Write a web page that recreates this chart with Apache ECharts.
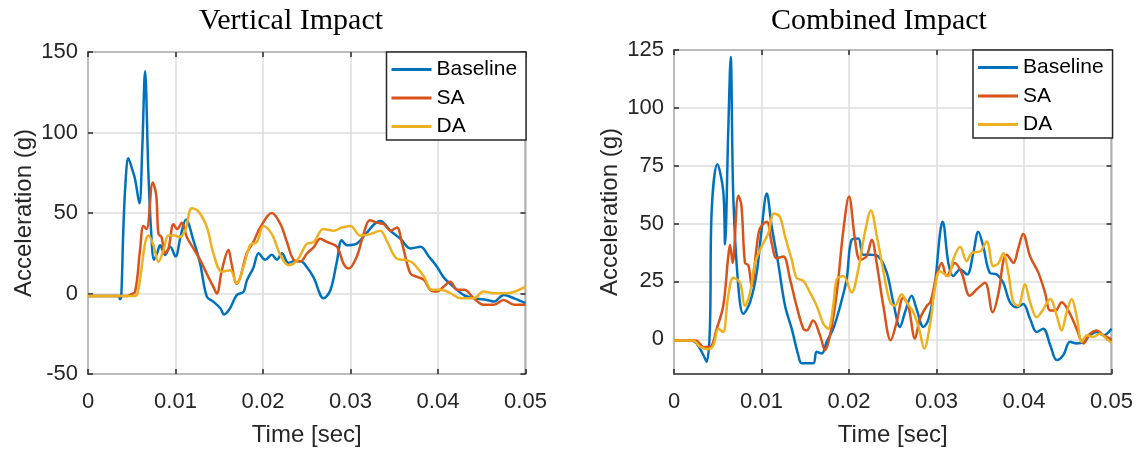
<!DOCTYPE html>
<html>
<head>
<meta charset="utf-8">
<script src="https://cdn.jsdelivr.net/npm/echarts@6/dist/echarts.min.js"></script>
<style>
  html, body { margin: 0; padding: 0; background: #fff; }
  #main { width: 1140px; height: 452px; }
</style>
</head>
<body>
<div id="main"></div>
<script>
// data, [time (s), acceleration (g)]
const verticalBaseline = [
  [0, -1.5], [0.0035, -1.5], [0.00366, -3.5], [0.0038, -2], [0.00404, 40], [0.0043, 70], [0.00461, 84], [0.005, 78], [0.00538, 71], [0.00587, 56],
  [0.0062, 90], [0.00652, 138], [0.0069, 75], [0.0072, 40], [0.00755, 21], [0.0079, 25], [0.00824, 30], [0.0088, 24], [0.0094, 29], [0.01, 23],
  [0.0106, 36], [0.0112, 46], [0.01205, 33], [0.0128, 19], [0.01358, -2], [0.0143, -5], [0.0151, -9], [0.01556, -13], [0.01625, -9], [0.017, -1],
  [0.01777, 1], [0.01815, 8], [0.0189, 16], [0.0195, 25], [0.02025, 21], [0.021, 24], [0.0216, 21], [0.02216, 25], [0.0229, 19], [0.0236, 20],
  [0.0243, 20], [0.025, 16.5], [0.02578, 10], [0.02692, -3], [0.0277, 2], [0.02845, 20], [0.029, 33], [0.0296, 30], [0.0307, 31], [0.0319, 38],
  [0.0327, 43], [0.0334, 45], [0.03455, 39], [0.0357, 34], [0.03684, 28], [0.038, 29], [0.03894, 23], [0.0399, 16.5], [0.04065, 10], [0.0418, 4],
  [0.04295, -1], [0.0441, -3], [0.0456, -4], [0.0464, -5], [0.0475, -1], [0.0487, -3], [0.05, -6]
]
const verticalSA = [
  [0, -1.5], [0.0045, -1.5], [0.0048, -0.8], [0.00538, 1], [0.00595, 27], [0.00633, 42], [0.0067, 40], [0.0074, 69], [0.0078, 61], [0.00805, 37],
  [0.0084, 35], [0.0088, 25], [0.0092, 28], [0.00977, 43], [0.0102, 40], [0.01072, 44], [0.0113, 35], [0.01205, 28], [0.0128, 21], [0.0136, 12],
  [0.01434, 4], [0.01472, 0], [0.0153, 14.5], [0.01605, 27], [0.0164, 18.6], [0.017, 6], [0.0174, 10], [0.01815, 25], [0.0189, 32], [0.01968, 41],
  [0.021, 50], [0.022, 43], [0.02273, 32], [0.0235, 21], [0.0243, 20], [0.025, 24.7], [0.0258, 28.8], [0.02654, 34], [0.0273, 32], [0.02845, 29],
  [0.0292, 18.6], [0.0298, 15.5], [0.0307, 22.6], [0.0315, 37], [0.0322, 45.5], [0.033, 44], [0.0338, 43], [0.0346, 39], [0.0353, 41], [0.0359, 31],
  [0.03684, 12.4], [0.0376, 10.4], [0.0384, 8.4], [0.0391, 2.3], [0.0399, 1.2], [0.04065, 4.3], [0.0414, 7.3], [0.0422, 2.3], [0.043, 2.3], [0.0441, -3],
  [0.0452, -7], [0.0464, -7], [0.0475, -4], [0.0487, -7], [0.05, -7]
]
const verticalDA = [
  [0, -1.5], [0.0054, -1.5], [0.00576, 2.3], [0.00652, 31], [0.0069, 36], [0.00748, 30], [0.00805, 19.6], [0.00862, 26.7], [0.0092, 36], [0.00995, 36],
  [0.0104, 35], [0.0111, 39], [0.01186, 53], [0.01262, 51], [0.0136, 41], [0.01434, 24.7], [0.0153, 13.5], [0.01625, 14.5], [0.017, 6.3], [0.01777, 16.5],
  [0.01853, 30], [0.0193, 32], [0.02006, 42], [0.021, 37], [0.022, 23.7], [0.0229, 17.6], [0.0239, 20.6], [0.025, 30.8], [0.0258, 32], [0.0269, 40],
  [0.0281, 39], [0.029, 41], [0.03, 42], [0.0311, 36], [0.03227, 37], [0.0334, 39], [0.0342, 32], [0.0353, 21.6], [0.0365, 20.6], [0.0372, 18.6],
  [0.0384, 10.4], [0.0393, 2.3], [0.0403, 2.3], [0.0414, 0.2], [0.0426, -2.9], [0.0441, -2.9], [0.0452, 1.2], [0.0464, 0.2], [0.0479, 0.2], [0.05, 4.3]
]
const combinedBaseline = [
  [0, -0.5], [0.002, -0.5], [0.0026, -1.8], [0.00335, -6.8], [0.00373, -9.7], [0.0041, 4.6], [0.0043, 55], [0.00495, 75.6], [0.00563, 64], [0.00583, 41],
  [0.0062, 90], [0.00648, 122], [0.00678, 61], [0.00735, 23], [0.00792, 11], [0.00869, 16], [0.00945, 28.7], [0.01, 47], [0.0106, 63], [0.01117, 48.6],
  [0.0119, 33], [0.01269, 14.5], [0.01345, 4.6], [0.0142, -6.8], [0.0146, -10.4], [0.0159, -10.4], [0.0163, -5.4], [0.0169, -6.1], [0.01745, -1.1], [0.0182, 4.6],
  [0.019, 14.5], [0.01973, 26], [0.0203, 43], [0.02106, 43.6], [0.02163, 36.5], [0.0224, 36.5], [0.02335, 35.8], [0.0243, 29], [0.02506, 16], [0.02583, 5.3],
  [0.0264, 11.7], [0.02716, 18.8], [0.02773, 13], [0.0285, 5.3], [0.0291, 8.8], [0.0298, 23], [0.0304, 45.8], [0.0307, 50.8], [0.03135, 33], [0.0319, 27.3],
  [0.0327, 30.2], [0.0335, 28], [0.0342, 37.2], [0.03478, 46.5], [0.03535, 40], [0.0361, 28.7], [0.0369, 28], [0.03763, 24.4], [0.0384, 16], [0.03917, 13.8],
  [0.0399, 15.2], [0.0407, 8.8], [0.04145, 3.1], [0.0422, 4.6], [0.043, -2.6], [0.04374, -9], [0.0445, -6.8], [0.04526, -1.1], [0.046, -1.8], [0.0468, -1.1],
  [0.04754, 1.7], [0.0483, 3.1], [0.04907, 1.7], [0.05, 4.6]
]
const combinedSA = [
  [0, -0.5], [0.0025, -0.5], [0.00335, -3.3], [0.0041, -3.3], [0.00488, 4.6], [0.00563, 14.5], [0.0062, 35.8], [0.0064, 40.8], [0.0067, 33], [0.00735, 62],
  [0.0077, 58], [0.00811, 33], [0.0085, 32], [0.00888, 23], [0.00945, 40], [0.00983, 48], [0.0106, 50.8], [0.01117, 41.5], [0.01173, 35], [0.0125, 35.8],
  [0.01326, 26], [0.014, 14.5], [0.01478, 4.6], [0.01516, 3.8], [0.0159, 8.1], [0.01669, 1.7], [0.01726, -4.7], [0.01783, 1.7], [0.0186, 20], [0.01935, 47],
  [0.02, 61.7], [0.02069, 43], [0.02126, 34.4], [0.022, 35.8], [0.0226, 43], [0.02316, 33], [0.0239, 15], [0.02477, -0.4], [0.02545, 7.4], [0.0262, 18],
  [0.02678, 14.5], [0.02754, 0.3], [0.0281, 8.8], [0.0289, 14.5], [0.0293, 16], [0.03, 27.3], [0.0306, 33], [0.03116, 27.3], [0.0321, 33], [0.03288, 28.7],
  [0.0338, 18.8], [0.0346, 21.6], [0.03554, 24.4], [0.03642, 11.7], [0.0371, 20.2], [0.03763, 33.7], [0.038, 36.5], [0.03878, 33], [0.03935, 39.4], [0.0399, 45.5],
  [0.0407, 35.8], [0.04165, 28.7], [0.0424, 20.2], [0.043, 12.4], [0.0436, 12.4], [0.0443, 16], [0.04526, 11], [0.046, 4.6], [0.0468, -1.8], [0.04754, 2.4],
  [0.0483, 3.8], [0.0491, 1.7], [0.05, 0]
]
const combinedDA = [
  [0, -0.5], [0.0022, -0.5], [0.003, -3.3], [0.0039, -4.3], [0.0045, -2.6], [0.00507, 4.6], [0.0056, 3.1], [0.0062, 18.8], [0.00678, 26.6], [0.00754, 24.4],
  [0.00811, 14.5], [0.00869, 20.2], [0.00926, 33], [0.01, 40], [0.01078, 45.8], [0.01143, 54.3], [0.0121, 52.9], [0.01269, 44.4], [0.01345, 34.4], [0.014, 26.6],
  [0.01478, 25.2], [0.01554, 20.2], [0.0163, 14.5], [0.01707, 6.7], [0.01763, 4.6], [0.0182, 14.5], [0.0186, 25.9], [0.01935, 27.3], [0.0203, 20.2], [0.02106, 30.2],
  [0.0218, 45.8], [0.0225, 55.7], [0.02316, 45], [0.0239, 30], [0.0247, 16], [0.02526, 14.5], [0.026, 19.5], [0.0266, 16], [0.02735, 11.7], [0.028, 4.6],
  [0.0286, -4], [0.0293, 7.4], [0.0298, 21.6], [0.0304, 29.4], [0.03135, 27.3], [0.0319, 34.4], [0.0327, 40], [0.03345, 33.7], [0.034, 37.2], [0.035, 38],
  [0.03574, 42.2], [0.0365, 31.6], [0.0371, 33], [0.03763, 37.2], [0.0382, 28.7], [0.03878, 16], [0.03935, 14.5], [0.0401, 23.8], [0.0407, 16], [0.04145, 9.5],
  [0.0422, 13], [0.043, 17.4], [0.04374, 10.2], [0.0443, 3.8], [0.04488, 11.7], [0.04545, 17.4], [0.046, 10.2], [0.04662, -1.1], [0.0472, 1.7], [0.0479, 1],
  [0.0487, 2.4], [0.0494, 0.3], [0.05, -1.5]
]
const seriesNames = ['Baseline', 'SA', 'DA']
const combinedYTicks = [0, 25, 50, 75, 100, 125]

const colors = ['#0072BD', '#D95319', '#EDB120']
const ink = '#262626'
const sans = 'Liberation Sans'

const myChart = echarts.init(document.getElementById('main'), null, { renderer: 'canvas' })

function xAxisFor (gridIndex, top) {
  return {
    type: 'value',
    gridIndex: gridIndex,
    position: top ? 'top' : 'bottom',
    min: 0,
    max: 0.05,
    interval: 0.01,
    name: top ? '' : 'Time [sec]',
    nameLocation: 'middle',
    nameGap: 49,
    nameTextStyle: { fontFamily: sans, fontSize: 24, color: ink },
    axisLine: { show: false, onZero: false },
    axisTick: { show: true, inside: true, length: 5, lineStyle: { color: ink, width: 1.5 } },
    axisLabel: {
      show: !top,
      margin: 17,
      fontFamily: sans,
      fontSize: 22,
      color: ink,
      showMinLabel: true,
      showMaxLabel: true,
      formatter: v => (v === 0 ? '0' : v.toFixed(2))
    },
    splitLine: { show: !top, lineStyle: { color: '#dcdcdc', width: 1.5 } }
  }
}

function yAxisFor (gridIndex, right, range, ticks) {
  const axis = {
    type: 'value',
    gridIndex: gridIndex,
    position: right ? 'right' : 'left',
    min: range[0],
    max: range[1],
    name: right ? '' : 'Acceleration (g)',
    nameLocation: 'middle',
    nameGap: 52,
    nameTextStyle: { fontFamily: sans, fontSize: 24, color: ink },
    axisLine: { show: false, onZero: false },
    axisTick: { show: true, inside: true, length: 5, lineStyle: { color: ink, width: 1.5 } },
    axisLabel: {
      show: !right,
      margin: 10,
      fontFamily: sans,
      fontSize: 22,
      color: ink,
      showMinLabel: true,
      showMaxLabel: true
    },
    splitLine: { show: !right, lineStyle: { color: '#dcdcdc', width: 1.5 } }
  }
  if (ticks) {
    axis.axisLabel.customValues = ticks
    axis.axisTick.customValues = ticks
  } else {
    axis.interval = range[2]
  }
  return axis
}

function lineSeries (name, data, i, axisIndex) {
  return {
    name: name,
    type: 'line',
    xAxisIndex: axisIndex,
    yAxisIndex: axisIndex,
    data: data,
    showSymbol: false,
    symbol: 'none',
    smooth: 0.35,
    lineStyle: { color: colors[i], width: 2.5 },
    itemStyle: { color: colors[i] },
    z: 3 + i
  }
}

function legendFor (left, top) {
  return {
    orient: 'vertical',
    left: left,
    top: top,
    data: seriesNames,
    icon: 'rect',
    itemWidth: 40,
    itemHeight: 3,
    itemGap: 7.5,
    padding: [7, 9, 3, 5],
    backgroundColor: '#fff',
    borderColor: ink,
    borderWidth: 1.5,
    borderRadius: 0,
    textStyle: { fontFamily: sans, fontSize: 21, color: '#000' },
    selectedMode: false
  }
}

const option = {
  animation: false,
  backgroundColor: '#fff',
  title: [
    {
      text: 'Vertical Impact',
      left: 291,
      top: 6,
      padding: 0,
      textAlign: 'center',
      textStyle: { fontFamily: 'Liberation Serif', fontSize: 30, fontWeight: 'normal', color: '#000' }
    },
    {
      text: 'Combined Impact',
      left: 879,
      top: 6,
      padding: 0,
      textAlign: 'center',
      textStyle: { fontFamily: 'Liberation Serif', fontSize: 30, fontWeight: 'normal', color: '#000' }
    }
  ],
  grid: [
    { left: 88, top: 52, width: 437.5, height: 326, show: true, borderColor: ink, borderWidth: 1.5, backgroundColor: 'transparent' },
    { left: 674, top: 50, width: 437.5, height: 328, show: true, borderColor: ink, borderWidth: 1.5, backgroundColor: 'transparent' }
  ],
  legend: [legendFor(386.5, 52), legendFor(973, 50)],
  xAxis: [xAxisFor(0, false), xAxisFor(0, true), xAxisFor(1, false), xAxisFor(1, true)],
  yAxis: [
    yAxisFor(0, false, [-50, 150, 50]),
    yAxisFor(0, true, [-50, 150, 50]),
    yAxisFor(1, false, [-15, 125], combinedYTicks),
    yAxisFor(1, true, [-15, 125], combinedYTicks)
  ],
  series: [
    lineSeries(seriesNames[0], verticalBaseline, 0, 0),
    lineSeries(seriesNames[1], verticalSA, 1, 0),
    lineSeries(seriesNames[2], verticalDA, 2, 0),
    lineSeries(seriesNames[0], combinedBaseline, 0, 2),
    lineSeries(seriesNames[1], combinedSA, 1, 2),
    lineSeries(seriesNames[2], combinedDA, 2, 2)
  ]
}
myChart.setOption(option)
</script>
</body>
</html>
